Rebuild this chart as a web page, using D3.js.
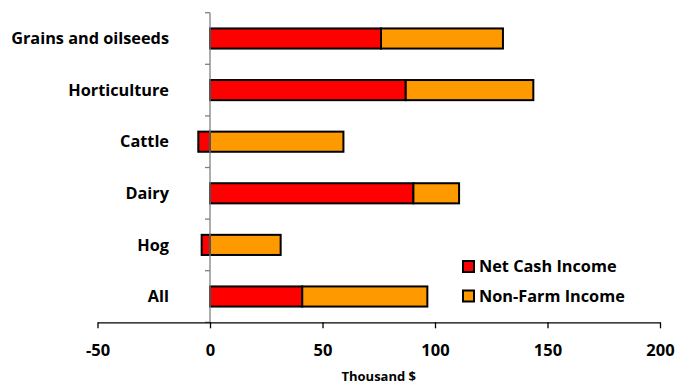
<!DOCTYPE html>
<html><head><meta charset="utf-8">
<script src="https://cdn.jsdelivr.net/npm/d3@7"></script>
<style>body{margin:0;background:#fff;} text{font-family:"Open Sans",sans-serif;font-weight:700;fill:#000;}</style>
</head><body><svg id="c" width="679" height="385"></svg>
<script>
const categories = ["Grains and oilseeds","Horticulture","Cattle","Dairy","Hog","All"];
const netCash = [76, 87, -5.2, 90.4, -3.7, 41];
const nonFarm = [54.2, 56.7, 59.3, 20.3, 31.4, 55.6];
const seriesNames = ["Net Cash Income","Non-Farm Income"];
const xTicks = [-50,0,50,100,150,200];
const colors = ["#FF0000","#FF9900"];

const svg = d3.select("#c");
const x = d3.scaleLinear().domain([-50,200]).range([97.5,660]);
const y = d3.scaleBand().domain(categories).range([12.7,322.3]).paddingInner(0.61).paddingOuter(0.305);

// bars
const rows = categories.map((c,i)=>{
  const segs=[];
  const n=netCash[i], f=nonFarm[i];
  if(n>=0){segs.push({s:0,x0:0,x1:n}); segs.push({s:1,x0:n,x1:n+f});}
  else {segs.push({s:0,x0:n,x1:0}); segs.push({s:1,x0:0,x1:f});}
  return {c,segs};
});
rows.forEach(r=>{
  svg.selectAll(null).data(r.segs).enter().append("rect")
    .attr("x",d=>x(d.x0)).attr("width",d=>x(d.x1)-x(d.x0))
    .attr("y",y(r.c)).attr("height",y.bandwidth())
    .attr("fill",d=>colors[d.s]).attr("stroke","#000").attr("stroke-width",2);
});

// y axis (gray line with left ticks at boundaries)
const y0 = 12.7, y1 = 322.3;
svg.append("line").attr("x1",x(0)).attr("x2",x(0)).attr("y1",y0).attr("y2",y1).attr("stroke","#808080").attr("stroke-width",1.3);
d3.range(categories.length+1).forEach(i=>{
  const yy = y0 + i*(y1-y0)/categories.length;
  svg.append("line").attr("x1",x(0)-5).attr("x2",x(0)).attr("y1",yy).attr("y2",yy).attr("stroke","#808080").attr("stroke-width",1.3);
});
svg.selectAll(null).data(categories).enter().append("text")
  .attr("x",169).attr("y",d=>y(d)+y.bandwidth()/2).attr("dy","0.35em")
  .attr("text-anchor","end").attr("font-size",16.3).text(d=>d);

// x axis
const xa = svg.append("g").attr("transform",`translate(0,${y1})`)
  .call(d3.axisBottom(x).tickValues(xTicks).tickFormat(d=>String(d)).tickSize(6).tickSizeOuter(0));
xa.select(".domain").attr("stroke","#000").attr("stroke-width",1.3);
xa.selectAll(".tick line").attr("stroke","#000").attr("stroke-width",1.3);
xa.selectAll("text").attr("y",34).attr("dy",0).attr("font-size",16.5).attr("fill","#000")
  .style("font-family","'Open Sans',sans-serif").style("font-weight",700);

svg.append("text").attr("x",x(75)).attr("y",380.5).attr("text-anchor","middle").attr("font-size",13).text("Thousand $");

// legend
seriesNames.forEach((s,i)=>{
  const ly = 266.5 + i*29.5;
  svg.append("rect").attr("x",463).attr("y",ly-5.5).attr("width",11).attr("height",11)
    .attr("fill",colors[i]).attr("stroke","#000").attr("stroke-width",2);
  svg.append("text").attr("x",479).attr("y",ly).attr("dy","0.35em").attr("font-size",16.3).text(s);
});
</script></body></html>
